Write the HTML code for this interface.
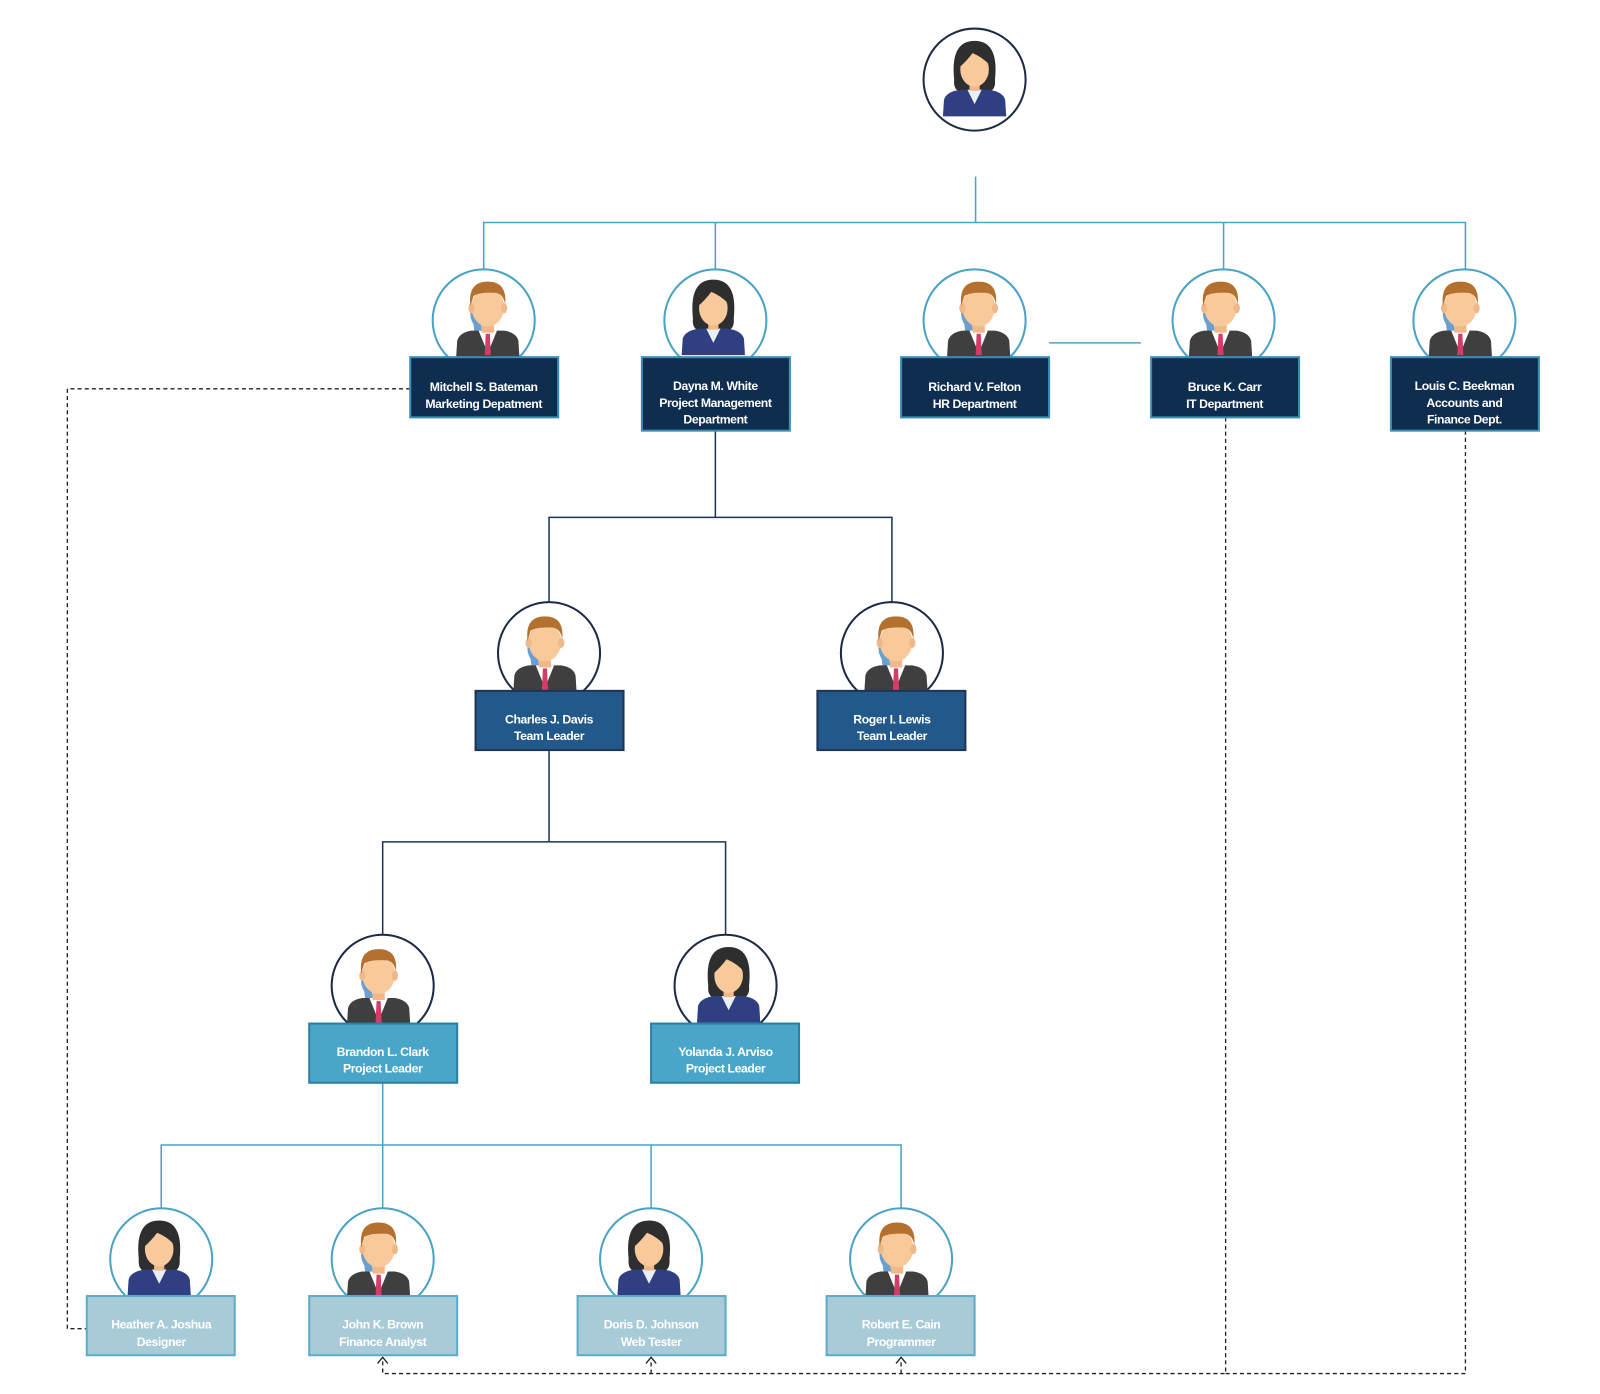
<!DOCTYPE html>
<html><head><meta charset="utf-8">
<style>
html,body{margin:0;padding:0;background:#fff;}
svg{display:block;}
text{font-family:"Liberation Sans",sans-serif;font-size:12px;letter-spacing:-0.4px;text-anchor:middle;font-weight:bold;}
</style></head>
<body>
<svg width="1600" height="1394" viewBox="0 0 1600 1394" xmlns="http://www.w3.org/2000/svg">
<defs>
<g id="man">
  <path d="M-10,-18 Q-22,-10 -14,4 L-12,20 L-4,20 Z" fill="#6a9fd0"/>
  <path d="M-31,36 L-30,20 Q-28,12 -16,10 L16,10 Q28,12 30,20 L31,36 Z" fill="#3f3f3f"/>
  <path d="M-9,10 L0,32 L9,10 Z" fill="#fff"/>
  <path d="M-2,13 L2,13 L3,34 L-3,34 Z" fill="#d43c68"/>
  <rect x="-6" y="2" width="12" height="10" fill="#f0b888"/>
  <ellipse cx="0" cy="-13" rx="16" ry="19" fill="#f8c99a"/>
  <ellipse cx="-16" cy="-12" rx="3" ry="5" fill="#f0b888"/>
  <ellipse cx="16" cy="-12" rx="3" ry="5" fill="#f0b888"/>
  <path d="M-17,-14 Q-20,-38 0,-38 Q19,-38 17,-16 Q15,-26 8,-27 Q-8,-28 -14,-24 Z" fill="#b3702e"/>
</g>
<g id="woman">
  <path d="M-20,0 Q-24,-38 0,-38 Q24,-38 20,0 Q21,10 14,12 L-14,12 Q-21,10 -20,0 Z" fill="#2e2e2e"/>
  <path d="M-31,36 L-30,20 Q-28,12 -14,10 L14,10 Q28,12 30,20 L31,36 Z" fill="#2f3f82"/>
  <path d="M-7,10 L0,24 L7,10 Z" fill="#e8f0f4"/>
  <rect x="-5" y="2" width="10" height="9" fill="#f0b888"/>
  <ellipse cx="0" cy="-10" rx="14" ry="17" fill="#f8c99a"/>
  <path d="M-15,-12 Q-12,-34 2,-32 Q14,-30 15,-14 Q8,-22 -2,-26 Q-8,-18 -15,-12 Z" fill="#2e2e2e"/>
</g>
</defs>
<g transform="scale(1.0205)">
<g fill="none" stroke="#222" stroke-width="1.3" stroke-dasharray="4,3">
  <path d="M402,381 H66 V1302 H85"/>
  <path d="M1201,409 V1346 H375 V1332"/>
  <path d="M1436,422 V1346 H1201"/>
  <path d="M638,1346 V1332"/>
  <path d="M883,1346 V1332"/>
</g>
<g fill="none" stroke="#222" stroke-width="1.3">
  <path d="M370,1336 L375,1330 L380,1336"/>
  <path d="M633,1336 L638,1330 L643,1336"/>
  <path d="M878,1336 L883,1330 L888,1336"/>
</g>
<g fill="none" stroke="#4aa3c4" stroke-width="1.5">
  <path d="M956,173 V218 M474,264 V218 H1436 V264 M701,218 V264 M1199,218 V264"/>
  <path d="M1028,336 H1118"/>
  <path d="M375,1061 V1122 M158,1184 V1122 H883 V1184 M375,1122 V1184 M638,1122 V1184"/>
</g>
<g fill="none" stroke="#1c3556" stroke-width="1.5">
  <path d="M701,422 V507 M538,590 V507 H874 V590"/>
  <path d="M538,735 V825 M375,916 V825 H711 V916"/>
</g>
<circle cx="955" cy="78" r="50" fill="#fff" stroke="#1c2a48" stroke-width="2"/>
<use href="#woman" x="955" y="78"/>
<g stroke="#4aa3c4" stroke-width="2">
  <circle cx="474" cy="314" r="50" fill="#fff"/>
  <circle cx="701" cy="314" r="50" fill="#fff"/>
  <circle cx="955" cy="314" r="50" fill="#fff"/>
  <circle cx="1199" cy="314" r="50" fill="#fff"/>
  <circle cx="1435" cy="314" r="50" fill="#fff"/>
</g>
<use href="#man" x="478" y="314"/>
<use href="#woman" x="699" y="312"/>
<use href="#man" x="959" y="314"/>
<use href="#man" x="1196" y="314"/>
<use href="#man" x="1431" y="314"/>
<g fill="#0f2d4f" stroke="#3a8fb4" stroke-width="2">
  <rect x="402" y="350" width="145" height="59"/>
  <rect x="629" y="350" width="145" height="72"/>
  <rect x="883" y="350" width="145" height="59"/>
  <rect x="1128" y="350" width="145" height="59"/>
  <rect x="1363" y="350" width="145" height="72"/>
</g>
<g fill="#fff">
  <text x="474" y="383">Mitchell S. Bateman</text><text x="474" y="400">Marketing Depatment</text>
  <text x="701" y="382">Dayna M. White</text><text x="701" y="399">Project Management</text><text x="701" y="415">Department</text>
  <text x="955" y="383">Richard V. Felton</text><text x="955" y="400">HR Department</text>
  <text x="1200" y="383">Bruce K. Carr</text><text x="1200" y="400">IT Department</text>
  <text x="1435" y="382">Louis C. Beekman</text><text x="1435" y="399">Accounts and</text><text x="1435" y="415">Finance Dept.</text>
</g>
<g stroke="#1c2a48" stroke-width="2" fill="#fff">
  <circle cx="538" cy="640" r="50"/>
  <circle cx="874" cy="640" r="50"/>
</g>
<use href="#man" x="534" y="642"/>
<use href="#man" x="878" y="642"/>
<g fill="#22598a" stroke="#1c3556" stroke-width="2">
  <rect x="466" y="677" width="145" height="58"/>
  <rect x="801" y="677" width="145" height="58"/>
</g>
<g fill="#fff">
  <text x="538" y="709">Charles J. Davis</text><text x="538" y="725">Team Leader</text>
  <text x="874" y="709">Roger I. Lewis</text><text x="874" y="725">Team Leader</text>
</g>
<g stroke="#1c2a48" stroke-width="2" fill="#fff">
  <circle cx="375" cy="966" r="50"/>
  <circle cx="711" cy="966" r="50"/>
</g>
<use href="#man" x="371" y="968"/>
<use href="#woman" x="714" y="966"/>
<g fill="#4aa6c8" stroke="#2c7fa3" stroke-width="2">
  <rect x="303" y="1003" width="145" height="58"/>
  <rect x="638" y="1003" width="145" height="58"/>
</g>
<g fill="#fff">
  <text x="375" y="1035">Brandon L. Clark</text><text x="375" y="1051">Project Leader</text>
  <text x="711" y="1035">Yolanda J. Arviso</text><text x="711" y="1051">Project Leader</text>
</g>
<g stroke="#4aa3c4" stroke-width="2" fill="#fff">
  <circle cx="158" cy="1234" r="50"/>
  <circle cx="375" cy="1234" r="50"/>
  <circle cx="638" cy="1234" r="50"/>
  <circle cx="883" cy="1234" r="50"/>
</g>
<use href="#woman" x="156" y="1234"/>
<use href="#man" x="371" y="1236"/>
<use href="#woman" x="636" y="1234"/>
<use href="#man" x="879" y="1236"/>
<g fill="#a9cbd8" stroke="#5aaccb" stroke-width="2">
  <rect x="85" y="1270" width="145" height="58"/>
  <rect x="303" y="1270" width="145" height="58"/>
  <rect x="566" y="1270" width="145" height="58"/>
  <rect x="810" y="1270" width="145" height="58"/>
</g>
<g fill="#fff">
  <text x="158" y="1302">Heather A. Joshua</text><text x="158" y="1319">Designer</text>
  <text x="375" y="1302">John K. Brown</text><text x="375" y="1319">Finance Analyst</text>
  <text x="638" y="1302">Doris D. Johnson</text><text x="638" y="1319">Web Tester</text>
  <text x="883" y="1302">Robert E. Cain</text><text x="883" y="1319">Programmer</text>
</g>
</g>
</svg>
</body></html>
